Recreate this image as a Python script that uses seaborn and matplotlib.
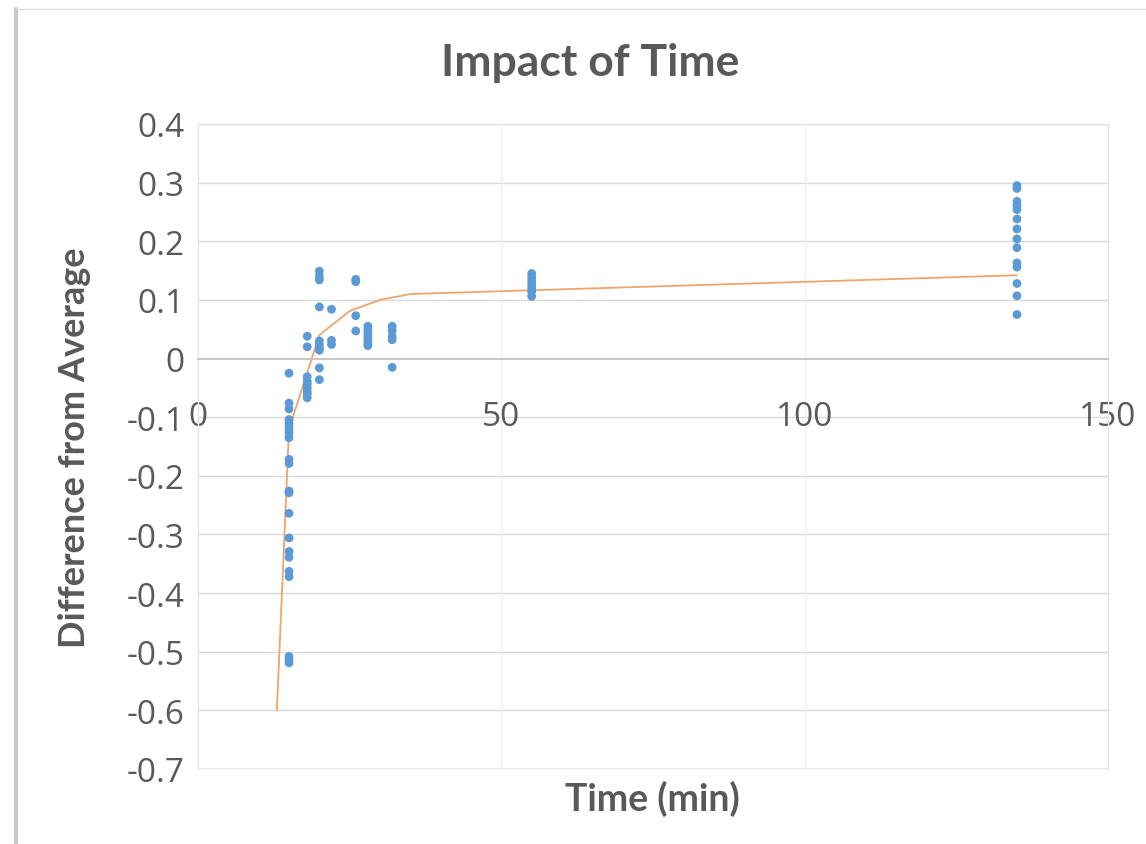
import pandas as pd
import seaborn as sns
import matplotlib.pyplot as plt
from matplotlib.lines import Line2D

# measured differences, grouped by time (min)
times = [15, 18, 20, 22, 26, 28, 32, 55, 135]
diff_15 = [-0.025, -0.076, -0.086, -0.104, -0.110, -0.115, -0.121, -0.127, -0.135,
           -0.172, -0.179, -0.226, -0.229, -0.264, -0.306, -0.329, -0.339, -0.363,
           -0.372, -0.508, -0.513, -0.519]
diff_18 = [0.038, 0.020, -0.031, -0.039, -0.044, -0.050, -0.056, -0.061, -0.067]
diff_20 = [0.149, 0.140, 0.134, 0.088, 0.030, 0.024, 0.018, 0.014, -0.016, -0.036]
diff_22 = [0.084, 0.031, 0.024]
diff_26 = [0.135, 0.131, 0.073, 0.047]
diff_28 = [0.055, 0.049, 0.044, 0.038, 0.032, 0.027, 0.022]
diff_32 = [0.055, 0.048, 0.038, 0.032, -0.015]
diff_55 = [0.145, 0.138, 0.132, 0.126, 0.120, 0.114, 0.106]
diff_135 = [0.295, 0.290, 0.268, 0.261, 0.254, 0.238, 0.221, 0.204, 0.189, 0.163,
            0.156, 0.128, 0.107, 0.075]

# fitted curve
fit_time = [13, 15, 20, 25, 30, 35, 135]
fit_diff = [-0.60, -0.12, 0.04, 0.081, 0.100, 0.110, 0.142]

groups = [diff_15, diff_18, diff_20, diff_22, diff_26, diff_28, diff_32, diff_55, diff_135]
rows = []
for t, vals in zip(times, groups):
    for v in vals:
        rows.append({'time': t, 'diff': v})
df = pd.DataFrame(rows)
fit_df = pd.DataFrame({'time': fit_time, 'diff': fit_diff})

sns.set_theme(style='white')
plt.rcParams['font.family'] = ['Open Sans', 'DejaVu Sans']

TEXT = '#595959'
fig = plt.figure(figsize=(11.46, 8.45), dpi=100)
ax = fig.add_axes([0.1728, 0.0888, 0.794, 0.7633])

# light gridlines
for y in [-0.6, -0.5, -0.4, -0.3, -0.2, -0.1, 0.1, 0.2, 0.3, 0.4]:
    ax.axhline(y, color='#D9D9D9', lw=1, zorder=0)
for x in [50, 100]:
    ax.axvline(x, color='#F0F0F0', lw=1, zorder=0)

sns.lineplot(data=fit_df, x='time', y='diff', ax=ax, color='#F0A46C', lw=1.3,
             sort=False, estimator=None, zorder=2)
sns.scatterplot(data=df, x='time', y='diff', ax=ax, color='#5B9BD5', s=40,
                edgecolor='none', zorder=3)

ax.set_xlim(0, 150)
ax.set_ylim(-0.7, 0.4)
ax.set_xticks([0, 50, 100, 150])
ax.set_yticks([-0.7, -0.6, -0.5, -0.4, -0.3, -0.2, -0.1, 0, 0.1, 0.2, 0.3, 0.4])
ax.set_yticklabels(['-0.7', '-0.6', '-0.5', '-0.4', '-0.3', '-0.2', '-0.1', '0',
                    '0.1', '0.2', '0.3', '0.4'])

ax.spines['bottom'].set_position(('data', 0))
ax.spines['bottom'].set_color('#BFBFBF')
for s in ['left', 'right', 'top']:
    ax.spines[s].set_color('#E6E6E6')
    ax.spines[s].set_linewidth(1)
# bottom edge of the plot area
ax.axhline(-0.7, color='#E6E6E6', lw=1.5, zorder=0)

ax.tick_params(axis='x', length=0, pad=30, labelsize=24, labelcolor=TEXT)
ax.tick_params(axis='y', length=0, pad=10, labelsize=24, labelcolor=TEXT)

ax.set_xlabel('')
ax.set_ylabel('')
fig.text(0.515, 0.925, 'Impact of Time', ha='center', va='center',
         fontsize=32, fontweight='bold', color=TEXT, family='Lato')
fig.text(0.569, 0.054, 'Time (min)', ha='center', va='center',
         fontsize=27, fontweight='bold', color=TEXT, family='Lato')
fig.text(0.065, 0.47, 'Difference from Average', ha='center', va='center',
         rotation=90, fontsize=26, fontweight='bold', color=TEXT, family='Lato')

# frame of the chart image
fig.add_artist(Line2D([0.014, 0.014], [0.0, 0.988], transform=fig.transFigure,
                      color='#C8C8C8', lw=3))
fig.add_artist(Line2D([0.014, 1.0], [0.988, 0.988], transform=fig.transFigure,
                      color='#E0E0E0', lw=1))

fig.savefig('out.png', dpi=100)
